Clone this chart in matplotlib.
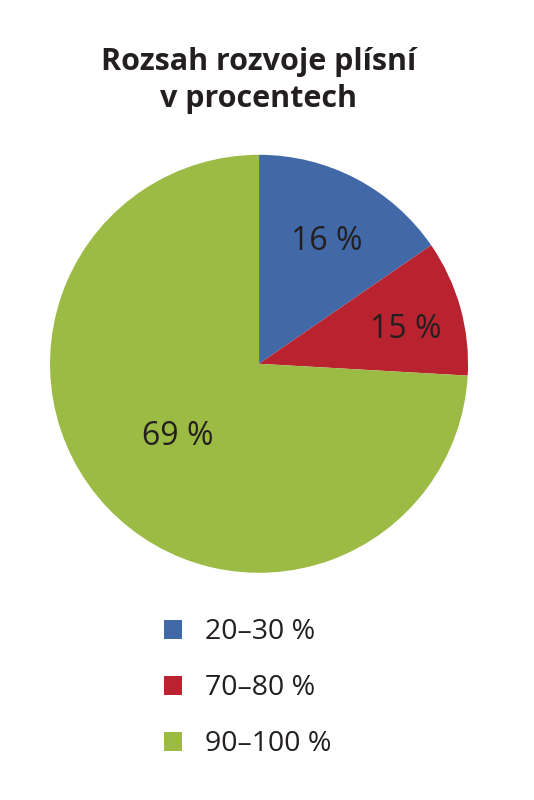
import matplotlib.pyplot as plt
from matplotlib.patches import Patch

plt.rcParams["font.family"] = ["Open Sans", "DejaVu Sans"]

# slice sizes as drawn, label text as printed
shares = [15.4, 10.5, 74.1]
slice_labels = ["16 %", "15 %", "69 %"]
categories = ["20–30 %", "70–80 %", "90–100 %"]
colors = ["#4169A8", "#B8232F", "#9BBB45"]

TEXT = "#231F20"

fig = plt.figure(figsize=(5.34, 8), dpi=100)
fig.text(0.485, 0.899, "Rozsah rozvoje plísní\nv procentech", ha="center", va="center",
         fontsize=22, fontweight="bold", color=TEXT, linespacing=1.3)

ax = fig.add_axes([0.0936, 0.284, 0.783, 0.5225])
wedges, _ = ax.pie(shares, colors=colors, startangle=90, counterclock=False,
                   radius=1, wedgeprops=dict(linewidth=0))
ax.set_xlim(-1, 1)
ax.set_ylim(-1, 1)
ax.set_aspect("equal")
ax.axis("off")

label_pos = [(0.325, 0.584), (0.70, 0.163), (-0.388, -0.349)]
for (x, y), txt in zip(label_pos, slice_labels):
    ax.text(x, y, txt, ha="center", va="center", fontsize=23, color=TEXT)

handles = [Patch(facecolor=c, edgecolor="none") for c in colors]
fig.legend(handles, categories, loc="upper left", bbox_to_anchor=(0.28, 0.245),
           frameon=False, fontsize=20.5, labelcolor=TEXT, handlelength=0.65,
           handleheight=0.65, handletextpad=0.8, labelspacing=0.98,
           borderpad=0)

fig.savefig("out.png", dpi=100)
